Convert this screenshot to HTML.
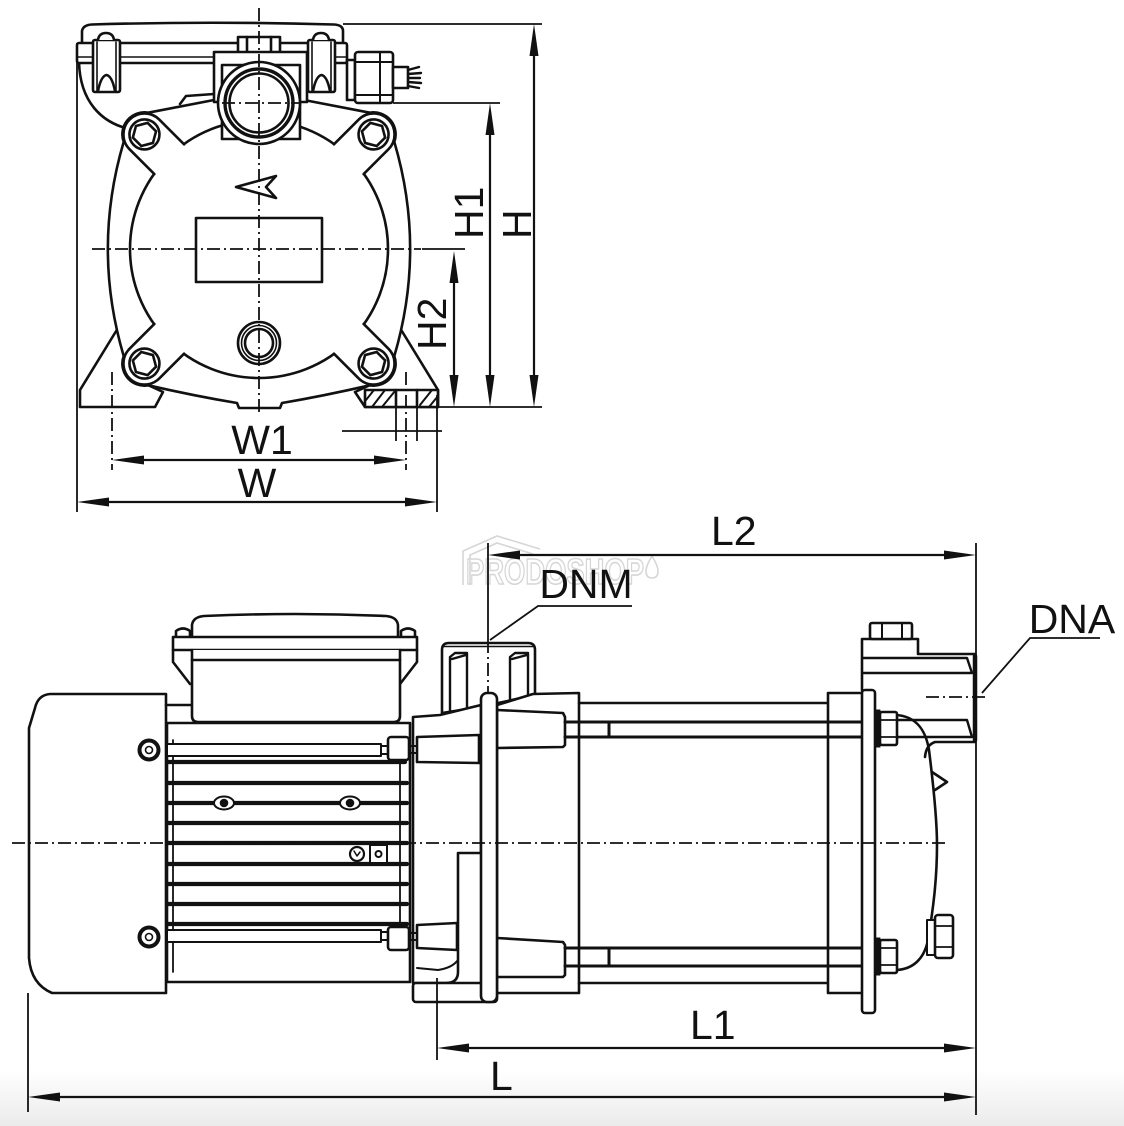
<!DOCTYPE html>
<html><head><meta charset="utf-8">
<style>html,body{margin:0;padding:0;background:#fff}svg{display:block}</style>
</head><body>
<svg width="1124" height="1126" viewBox="0 0 1124 1126" xmlns="http://www.w3.org/2000/svg">
<defs>
<linearGradient id="bg" x1="0" y1="0" x2="0" y2="1"><stop offset="0" stop-color="#ffffff"/><stop offset="1" stop-color="#ebebeb"/></linearGradient>
</defs>
<rect width="1124" height="1126" fill="#fff"/>
<rect x="0" y="1070" width="1124" height="56" fill="url(#bg)"/>

<!-- watermark -->
<g fill="none" stroke="#d6d6d6" stroke-width="1.6">
<path d="M463 585 L463 551 L497 536 L540 549 M470 585 L470 555 L497 543 L533 554"/>
<text x="466" y="584" font-family="Liberation Sans, Arial, sans-serif" font-size="36" font-weight="bold" textLength="178" lengthAdjust="spacingAndGlyphs">PRODOSHOP</text>
<path d="M652 556 Q646 566 646 571 Q646 578 652 578 Q658 578 658 571 Q658 566 652 556 Z"/>
</g>

<!-- ================= FRONT VIEW ================= -->
<g fill="none" stroke="#111" stroke-width="2.6" stroke-linejoin="round" stroke-linecap="round">
<!-- feet -->
<path fill="#fff" d="M118 328 L80 390 L80 407 L155 407 L163 392 L150 386"/>
<path fill="#fff" d="M400 328 L438 390 L438 407 L365 407 L355 392 L368 386"/>
<rect x="365" y="390" width="73" height="17" fill="#fff"/>
<path d="M396 390 L396 407 M417 390 L417 407"/>
<path d="M366 400 L374 390 M372 407 L385 390 M382 407 L395 391 M420 405 L432 390 M429 407 L438 396" stroke-width="2"/>

<!-- motor back curve -->
<path d="M79 62 C80 100 100 124 134 130"/>
<path d="M180 104 L186 96 L214 94"/>

<!-- casing -->
<path fill="#fff" d="M214 100 L148.2 112.7 A22 22 0 0 0 123.7 141.9 Q92 249 123.7 356.1 A22 22 0 0 0 148.2 385.3 Q195 396 237 403 L239 408 L280 408 L282 403 Q323 396 369.8 385.3 A22 22 0 0 0 394.3 356.1 Q426 249 394.3 141.9 A22 22 0 0 0 369.8 112.7 L304 100 Z"/>

<!-- big circle -->
<circle cx="259" cy="249" r="129"/>

<!-- ears -->
<g transform="translate(259 249) rotate(225)">
<path fill="#fff" stroke="none" d="M118 -21 L162 -21 A21 21 0 0 1 162 21 L118 21 Z"/>
<path d="M127 -21 L162 -21 A21 21 0 0 1 162 21 L127 21"/>
<circle cx="162" cy="0" r="15"/>
<polygon points="174,0 168,10.4 156,10.4 150,0 156,-10.4 168,-10.4"/>
</g>
<g transform="translate(259 249) rotate(315)">
<path fill="#fff" stroke="none" d="M118 -21 L162 -21 A21 21 0 0 1 162 21 L118 21 Z"/>
<path d="M127 -21 L162 -21 A21 21 0 0 1 162 21 L127 21"/>
<circle cx="162" cy="0" r="15"/>
<polygon points="174,0 168,10.4 156,10.4 150,0 156,-10.4 168,-10.4"/>
</g>
<g transform="translate(259 249) rotate(135)">
<path fill="#fff" stroke="none" d="M118 -21 L162 -21 A21 21 0 0 1 162 21 L118 21 Z"/>
<path d="M127 -21 L162 -21 A21 21 0 0 1 162 21 L127 21"/>
<circle cx="162" cy="0" r="15"/>
<polygon points="174,0 168,10.4 156,10.4 150,0 156,-10.4 168,-10.4"/>
</g>
<g transform="translate(259 249) rotate(45)">
<path fill="#fff" stroke="none" d="M118 -21 L162 -21 A21 21 0 0 1 162 21 L118 21 Z"/>
<path d="M127 -21 L162 -21 A21 21 0 0 1 162 21 L127 21"/>
<circle cx="162" cy="0" r="15"/>
<polygon points="174,0 168,10.4 156,10.4 150,0 156,-10.4 168,-10.4"/>
</g>

<!-- nameplate, arrow, drain -->
<rect x="196" y="218" width="126" height="64" fill="#fff"/>
<polygon points="236,187 276,176 266,187 276,198"/>
<circle cx="259" cy="343" r="21" fill="#fff"/>
<circle cx="259" cy="343" r="17.5" stroke-width="1.6"/>
<circle cx="259" cy="343" r="14"/>

<!-- lid -->
<path fill="#fff" d="M82 44 L82 31 Q83 25 92 24.5 Q212 21 334 24.5 Q343 25 343 31 L343 44"/>
<rect x="77" y="43" width="270" height="20" rx="2" fill="#fff"/>
<line x1="77" y1="57" x2="347" y2="57" stroke-width="1.5"/>

<!-- hinges -->
<rect x="93" y="40" width="27" height="52" rx="2" fill="#fff"/>
<path d="M97 42 L97 91 M116 42 L116 91" stroke-width="1.6"/>
<path d="M98 91 Q101 76 106.5 75 Q112 76 115 91"/>
<path fill="#fff" d="M98 40 Q99 33 106 33 Q113 33 114 40"/>
<rect x="308" y="40" width="27" height="52" rx="2" fill="#fff"/>
<path d="M312 42 L312 91 M331 42 L331 91" stroke-width="1.6"/>
<path d="M313 91 Q316 76 321.5 75 Q327 76 330 91"/>
<path fill="#fff" d="M313 40 Q314 33 321 33 Q328 33 329 40"/>

<!-- outlet block -->
<rect x="238" y="37" width="42" height="16" fill="#fff"/>
<path d="M247 37 L247 53 M271 37 L271 53"/>
<rect x="214" y="52" width="93" height="50" fill="#fff"/>
<rect x="222" y="65" width="78" height="74" fill="#fff"/>
<circle cx="259" cy="103" r="41" fill="#fff"/>
<circle cx="259" cy="103" r="34" stroke-width="3.4"/>
<circle cx="259" cy="103" r="29.5"/>

<!-- cable gland -->
<rect x="347" y="60" width="8" height="40" fill="#fff"/>
<rect x="355" y="52" width="38" height="51" rx="3" fill="#fff"/>
<path d="M380 52 L380 103 M355 62 L393 62 M355 95 L393 95" stroke-width="2"/>
<rect x="393" y="67" width="15" height="21" fill="#fff"/>
<path d="M408 70 L419 67 M408 74 L421 73 M408 78 L420 78 M408 82 L421 83 M408 86 L419 88" stroke-width="2.4"/>
</g>

<!-- front centerlines -->
<g fill="none" stroke="#111" stroke-width="1.8" stroke-dasharray="13 4 2 4">
<line x1="259" y1="8" x2="259" y2="416"/>
<line x1="92" y1="249" x2="421" y2="249"/>
<line x1="222" y1="103" x2="300" y2="103"/>
<line x1="112" y1="372" x2="112" y2="470"/>
<line x1="406" y1="372" x2="406" y2="470"/>
</g>

<!-- front dimensions -->
<g fill="none" stroke="#111" stroke-width="1.8">
<line x1="343" y1="24" x2="542" y2="24"/>
<line x1="393" y1="103" x2="500" y2="103"/>
<line x1="422" y1="249" x2="465" y2="249"/>
<line x1="438" y1="407" x2="542" y2="407"/>
<line x1="77" y1="43" x2="77" y2="512"/>
<line x1="437" y1="395" x2="437" y2="512"/>
<line x1="342" y1="431" x2="442" y2="431"/>
<line x1="396" y1="392" x2="396" y2="441"/>
<line x1="417" y1="392" x2="417" y2="441"/>
<g stroke-width="2.2">
<line x1="534" y1="40" x2="534" y2="392"/>
<line x1="490" y1="118" x2="490" y2="392"/>
<line x1="454" y1="265" x2="454" y2="392"/>
<line x1="128" y1="460" x2="390" y2="460"/>
<line x1="93" y1="502" x2="421" y2="502"/>
</g>
</g>
<g fill="#111" stroke="none">
<polygon points="534,24 529.5,56 538.5,56"/><polygon points="534,407 529.5,375 538.5,375"/>
<polygon points="490,103 485.5,135 494.5,135"/><polygon points="490,407 485.5,375 494.5,375"/>
<polygon points="454,251 449.5,283 458.5,283"/><polygon points="454,407 449.5,375 458.5,375"/>
<polygon points="112,460 144,455.5 144,464.5"/><polygon points="406,460 374,455.5 374,464.5"/>
<polygon points="77,502 109,497.5 109,506.5"/><polygon points="437,502 405,497.5 405,506.5"/>
</g>
<g font-family="Liberation Sans, Arial, sans-serif" font-size="41" fill="#111">
<text x="262" y="454" text-anchor="middle">W1</text>
<text x="257" y="497" text-anchor="middle">W</text>
<text transform="translate(483 239) rotate(-90)">H1</text>
<text transform="translate(531 239) rotate(-90)">H</text>
<text transform="translate(446 350) rotate(-90)">H2</text>
</g>

<!-- ================= SIDE VIEW ================= -->
<g fill="none" stroke="#111" stroke-width="2.6" stroke-linejoin="round" stroke-linecap="round">
<!-- fan cover -->
<path fill="#fff" d="M166 694 L50 694 Q38 695 35 708 L29 728 L29 958 Q31 984 52 993 L166 993 Z"/>
<path d="M166 705 L192 705"/>

<!-- terminal box -->
<path fill="#fff" d="M176 637 L176 631 Q183 626 190 631 L190 637 M401 637 L401 631 Q408 626 415 631 L415 637"/>
<path fill="#fff" d="M192 637 L192 625 Q193 617 204 616 Q295 612 386 616 Q397 617 398 625 L398 637"/>
<rect x="173" y="637" width="244" height="13" fill="#fff"/>
<path d="M173 650 L173 662 L190 684 M417 650 L417 662 L400 684"/>
<path fill="#fff" d="M192 650 L192 716 Q192 722 198 722 L394 722 Q400 722 400 716 L400 650"/>
<line x1="192" y1="660" x2="400" y2="660"/>

<!-- motor -->
<rect x="167" y="723" width="243" height="259" fill="#fff"/>
<path d="M173 740 L173 972 M400 762 L400 925" stroke-width="1.8"/>
<rect x="167" y="744" width="214" height="12" fill="#fff" stroke-width="2"/>
<rect x="381" y="746" width="7" height="8" stroke-width="2"/>
<rect x="388" y="737" width="21" height="23" rx="3" fill="#fff"/>
<rect x="167" y="930" width="214" height="12" fill="#fff" stroke-width="2"/>
<rect x="381" y="932" width="7" height="8" stroke-width="2"/>
<rect x="388" y="927" width="21" height="23" rx="3" fill="#fff"/>
<g stroke-width="4.2">
<line x1="168" y1="762" x2="405" y2="762"/>
<line x1="168" y1="783" x2="407" y2="783"/>
<line x1="168" y1="803" x2="407" y2="803"/>
<line x1="168" y1="823" x2="407" y2="823"/>
<line x1="168" y1="843" x2="407" y2="843"/>
<line x1="168" y1="864" x2="407" y2="864"/>
<line x1="168" y1="884" x2="407" y2="884"/>
<line x1="168" y1="904" x2="407" y2="904"/>
<line x1="168" y1="924" x2="407" y2="924"/>
</g>
<!-- screws on fan cover -->
<circle cx="149" cy="750" r="9.5" stroke-width="4"/>
<circle cx="149" cy="750" r="3.5" stroke-width="1.6"/>
<circle cx="149" cy="937" r="9.5" stroke-width="4"/>
<circle cx="149" cy="937" r="3.5" stroke-width="1.6"/>
<!-- slots -->
<ellipse cx="224" cy="803" rx="10" ry="6.5" fill="#fff" stroke-width="2"/>
<circle cx="224" cy="803" r="3" fill="#111"/>
<ellipse cx="350" cy="803" rx="10" ry="6.5" fill="#fff" stroke-width="2"/>
<circle cx="350" cy="803" r="3" fill="#111"/>
<!-- ground -->
<circle cx="357" cy="854" r="7" fill="#fff" stroke-width="2.2"/>
<path d="M354 851 L357 856 L360 852" stroke-width="1.5"/>
<rect x="370" y="845" width="17" height="18" fill="#fff" stroke-width="2"/>
<circle cx="378.5" cy="854" r="3" stroke-width="2"/>

<!-- DNM nozzle -->
<path fill="#fff" d="M442 713 L442 650 Q442 643 449 643 L528 643 Q535 643 535 650 L535 695 L480 707 Z"/>
<line x1="444" y1="646.5" x2="533" y2="646.5" stroke-width="1.6"/>
<path d="M450 711 L450 657 L455 653 L467 653 L467 708 M452 659 L466 655" stroke-width="2.4"/>
<path d="M510 699 L510 657 L515 653 L528 653 L528 695 M512 659 L527 655" stroke-width="2.4"/>

<!-- adaptor bracket -->
<path fill="#fff" d="M413 717 L440 715 L481 705 L481 853 L458 853 L458 972 Q458 983 446 983 L413 983 Z"/>
<path fill="#fff" d="M417 737 L479 735 L479 763 L417 762 Z"/>
<path fill="#fff" d="M417 925 L457 923 L457 950 L417 948 Z"/>
<rect x="410" y="746" width="7" height="7" stroke-width="2"/>
<rect x="410" y="933" width="7" height="7" stroke-width="2"/>
<path d="M417 968 L438 970 Q452 968 458 960" stroke-width="2"/>
<rect x="413" y="983" width="84" height="19" rx="3" fill="#fff"/>

<!-- pump head block -->
<path fill="#fff" d="M497 705 L533 694 L579 693 L579 993 L497 993 Z"/>
<path fill="#fff" d="M497 710 L563 713 L565 717 L565 745 L563 747 L497 748 Z"/>
<path fill="#fff" d="M497 938 L563 942 L565 945 L565 975 L563 977 L497 977 Z"/>

<!-- central plate -->
<rect x="481" y="693" width="16" height="309" rx="6" fill="#fff"/>

<!-- pump body -->
<path d="M579 703 L828 703 M579 983 L828 983 M828 693 L828 993 M828 693 L862 693 M828 993 L862 993"/>
<!-- tie rods -->
<path d="M565 722 L862 722 M565 737 L862 737 M609 722 L609 737" stroke-width="3"/>
<path d="M565 948 L862 948 M565 966 L862 966 M609 948 L609 966" stroke-width="3"/>

<!-- DNA outlet -->
<path fill="#fff" d="M862 690 L862 639 L918 639 L918 654 L975 654 L975 742 L935 742 Q926 745 925 757"/>
<rect x="870" y="623" width="42" height="16" rx="2" fill="#fff"/>
<path d="M882 623 L882 639 M902 623 L902 639" stroke-width="2"/>
<path d="M863 658 L967 658 L972 673 L863 673" stroke-width="2.4"/>
<path d="M880 720 L967 720 L972 737 L880 737" stroke-width="2.4"/>
<line x1="975" y1="656" x2="975" y2="740" stroke-width="4.5"/>

<!-- right plate -->
<rect x="862" y="690" width="13" height="323" rx="3" fill="#fff"/>
<!-- end cover -->
<path d="M897 715 C918 717 926 732 929 750 C934 790 937 820 937 845 C937 880 933 910 928 940 C924 960 912 969 897 970"/>
<path d="M932 772 L947 782 L935 790"/>
<!-- nuts -->
<rect x="875" y="710" width="5" height="37" fill="#111" stroke-width="1"/>
<rect x="880" y="712" width="17" height="33" rx="2" fill="#fff"/>
<path d="M880 720 L897 720 M880 737 L897 737" stroke-width="1.8"/>
<rect x="875" y="938" width="5" height="37" fill="#111" stroke-width="1"/>
<rect x="880" y="940" width="17" height="33" rx="2" fill="#fff"/>
<path d="M880 948 L897 948 M880 965 L897 965" stroke-width="1.8"/>
<!-- drain plug -->
<rect x="927" y="920" width="9" height="35" fill="#fff" stroke-width="2"/>
<rect x="935" y="915" width="18" height="43" rx="3" fill="#fff"/>
<path d="M935 926 L953 926 M935 947 L953 947" stroke-width="1.8"/>
</g>

<!-- side centerlines -->
<g fill="none" stroke="#111" stroke-width="1.8" stroke-dasharray="13 4 2 4">
<line x1="12" y1="843" x2="945" y2="843"/>
<line x1="926" y1="697" x2="986" y2="697"/>
<line x1="488" y1="640" x2="488" y2="692"/>
</g>

<!-- side dimensions -->
<g fill="none" stroke="#111" stroke-width="1.8">
<line x1="488" y1="543" x2="488" y2="640"/>
<line x1="976" y1="543" x2="976" y2="1115"/>
<line x1="437" y1="978" x2="437" y2="1060"/>
<line x1="28" y1="993" x2="28" y2="1112"/>
<path d="M490 640 L538 606 L632 606"/>
<path d="M982 693 L1030 638 L1100 638"/>
<g stroke-width="2.2">
<line x1="504" y1="555" x2="960" y2="555"/>
<line x1="453" y1="1048" x2="960" y2="1048"/>
<line x1="44" y1="1097" x2="960" y2="1097"/>
</g>
</g>
<g fill="#111" stroke="none">
<polygon points="488,555 520,550.5 520,559.5"/><polygon points="976,555 944,550.5 944,559.5"/>
<polygon points="437,1048 469,1043.5 469,1052.5"/><polygon points="976,1048 944,1043.5 944,1052.5"/>
<polygon points="28,1097 60,1092.5 60,1101.5"/><polygon points="976,1097 944,1092.5 944,1101.5"/>
</g>
<g font-family="Liberation Sans, Arial, sans-serif" font-size="41" fill="#111">
<text x="586" y="598" text-anchor="middle">DNM</text>
<text x="1072" y="633" text-anchor="middle">DNA</text>
<text x="711" y="545">L2</text>
<text x="690" y="1039">L1</text>
<text x="490" y="1090">L</text>
</g>
</svg>
</body></html>
